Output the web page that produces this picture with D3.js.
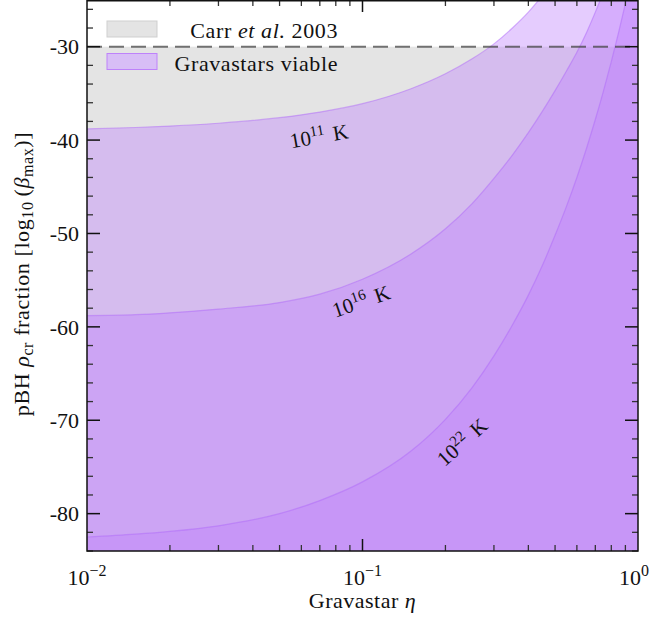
<!DOCTYPE html>
<html>
<head>
<meta charset="utf-8">
<script src="https://cdn.jsdelivr.net/npm/d3@7"></script>
<style>
  html, body { margin: 0; padding: 0; background: #fff; }
  svg { display: block; }
  text { font-family: "Liberation Serif", "Times New Roman", serif; fill: #111; }
</style>
</head>
<body>
<div id="chart"></div>
<script>
// ---- data ----
const etaT11  = [0.01, 0.015, 0.02, 0.03, 0.05, 0.07, 0.1, 0.15, 0.2, 0.25, 0.3, 0.35, 0.4, 0.45, 0.5, 0.6, 0.8, 1.0];
const betaT11 = [-38.8, -38.65, -38.5, -38.2, -37.6, -37.0, -36.1, -34.5, -32.9, -31.3, -29.7, -28.0, -26.3, -24.5, -22.7, -19.0, -11.5, -4.0];

const etaT16  = [0.01, 0.015, 0.02, 0.03, 0.05, 0.07, 0.1, 0.15, 0.2, 0.25, 0.3, 0.35, 0.4, 0.45, 0.5, 0.55, 0.6, 0.65, 0.7, 0.75, 0.8, 0.9, 1.0];
const betaT16 = [-58.8, -58.7, -58.5, -58.1, -57.4, -56.5, -54.9, -52.2, -49.5, -46.8, -44.1, -41.6, -39.2, -36.9, -34.7, -32.6, -30.6, -28.5, -26.3, -24.1, -21.9, -17.5, -13.0];

const etaT22  = [0.01, 0.015, 0.02, 0.03, 0.05, 0.07, 0.1, 0.15, 0.2, 0.25, 0.3, 0.35, 0.4, 0.45, 0.5, 0.55, 0.6, 0.65, 0.7, 0.75, 0.8, 0.85, 0.9, 0.95, 1.0];
const betaT22 = [-82.5, -82.2, -81.9, -81.3, -80.0, -78.6, -76.6, -73.3, -69.9, -66.5, -63.1, -59.8, -56.6, -53.4, -50.2, -47.1, -44.0, -40.9, -37.8, -34.7, -31.6, -28.5, -25.4, -22.3, -19.2];

const carrLimit = -30;
const curveLabels = ["10", "11", "16", "22"];
const yTicks = [-80, -70, -60, -50, -40, -30];
const xTickExps = ["-2", "-1", "0"];
const legendItems = ["Carr et al. 2003", "Gravastars viable"];

// ---- layout ----
const W = 651, H = 617;
const L = 87, R = 638, T = 0, B = 551;

const svg = d3.select("#chart").append("svg").attr("width", W).attr("height", H);

const x = d3.scaleLog().domain([1e-2, 1]).range([L, R]);
const y = d3.scaleLinear().domain([-84, -25]).range([B, T]);

svg.append("defs").append("clipPath").attr("id", "clip")
  .append("rect").attr("x", L).attr("y", T).attr("width", R - L).attr("height", B - T);

const plot = svg.append("g").attr("clip-path", "url(#clip)");

// grey Carr et al. region
plot.append("rect")
  .attr("x", L).attr("y", y(carrLimit))
  .attr("width", R - L).attr("height", B - y(carrLimit))
  .attr("fill", "#e4e4e4");

const purple = "rgb(192,130,252)";
const series = [
  [etaT11, betaT11],
  [etaT16, betaT16],
  [etaT22, betaT22]
];
const area = d3.area()
  .x(d => x(d[0])).y0(y(-84)).y1(d => y(d[1]))
  .curve(d3.curveMonotoneX);
const line = d3.line()
  .x(d => x(d[0])).y(d => y(d[1]))
  .curve(d3.curveMonotoneX);

series.forEach(([e, b]) => {
  const pts = e.map((v, i) => [v, b[i]]);
  plot.append("path").attr("d", area(pts))
    .attr("fill", purple).attr("fill-opacity", 0.41);
  plot.append("path").attr("d", line(pts))
    .attr("fill", "none").attr("stroke", "rgb(175,105,250)")
    .attr("stroke-opacity", 0.5).attr("stroke-width", 1.2);
});

// dashed Carr line
plot.append("line")
  .attr("x1", L).attr("x2", R).attr("y1", y(carrLimit)).attr("y2", y(carrLimit))
  .attr("stroke", "#444").attr("stroke-opacity", 0.75)
  .attr("stroke-width", 2).attr("stroke-dasharray", "15,7");

// ---- frame & ticks ----
const tickColor = "#333";
const frame = svg.append("g");
const yMinor = d3.range(-84, -24, 2).filter(v => v % 10 !== 0);
yMinor.forEach(v => {
  frame.append("line").attr("x1", L).attr("x2", L + 6).attr("y1", y(v)).attr("y2", y(v))
    .attr("stroke", tickColor).attr("stroke-width", 1.3);
  frame.append("line").attr("x1", R).attr("x2", R - 6).attr("y1", y(v)).attr("y2", y(v))
    .attr("stroke", tickColor).attr("stroke-width", 1.3);
});
yTicks.forEach(v => {
  frame.append("line").attr("x1", L).attr("x2", L + 13).attr("y1", y(v)).attr("y2", y(v))
    .attr("stroke", "#111").attr("stroke-width", 1.5);
  frame.append("line").attr("x1", R).attr("x2", R - 13).attr("y1", y(v)).attr("y2", y(v))
    .attr("stroke", "#111").attr("stroke-width", 1.5);
  svg.append("text").attr("x", L - 8).attr("y", y(v)).attr("dy", "0.35em")
    .attr("text-anchor", "end").attr("font-size", 22).text(String(v));
});
const xMinor = [];
[0.01, 0.1].forEach(d => { for (let k = 2; k <= 9; k++) xMinor.push(d * k); });
xMinor.forEach(v => {
  frame.append("line").attr("x1", x(v)).attr("x2", x(v)).attr("y1", B).attr("y2", B - 6)
    .attr("stroke", tickColor).attr("stroke-width", 1.3);
  frame.append("line").attr("x1", x(v)).attr("x2", x(v)).attr("y1", T).attr("y2", T + 6)
    .attr("stroke", tickColor).attr("stroke-width", 1.3);
});
[0.1].forEach(v => {
  frame.append("line").attr("x1", x(v)).attr("x2", x(v)).attr("y1", B).attr("y2", B - 12)
    .attr("stroke", "#111").attr("stroke-width", 1.5);
  frame.append("line").attr("x1", x(v)).attr("x2", x(v)).attr("y1", T).attr("y2", T + 12)
    .attr("stroke", "#111").attr("stroke-width", 1.5);
});
frame.append("rect").attr("x", L).attr("y", T + 0.75).attr("width", R - L).attr("height", B - T - 0.75)
  .attr("fill", "none").attr("stroke", "#111").attr("stroke-width", 1.5);

xTickExps.forEach((ex, i) => {
  const v = Math.pow(10, +ex);
  const last = i === xTickExps.length - 1;
  const t = svg.append("text").attr("x", last ? W - 2 : x(v)).attr("y", 585)
    .attr("text-anchor", last ? "end" : "middle").attr("font-size", 22);
  t.append("tspan").text("10");
  t.append("tspan").attr("dy", -9).attr("font-size", 16).text(ex.replace("-", "\u2212"));
});

// axis titles
const xt = svg.append("text").attr("x", (L + R) / 2).attr("y", 608)
  .attr("text-anchor", "middle").attr("font-size", 22).attr("letter-spacing", 0.5);
xt.append("tspan").text("Gravastar ");
xt.append("tspan").attr("font-style", "italic").text("\u03b7");

const yt = svg.append("text").attr("transform", "translate(29,274) rotate(-90)")
  .attr("text-anchor", "middle").attr("font-size", 22).attr("letter-spacing", 0.6);
yt.append("tspan").text("pBH ");
yt.append("tspan").attr("font-style", "italic").text("\u03c1");
yt.append("tspan").attr("font-size", 16).attr("dy", 4).text("cr");
yt.append("tspan").attr("dy", -4).text(" fraction [log");
yt.append("tspan").attr("font-size", 16).attr("dy", 4).text("10");
yt.append("tspan").attr("dy", -4).text("\u2009(");
yt.append("tspan").attr("font-style", "italic").text("\u03b2");
yt.append("tspan").attr("font-size", 16).attr("dy", 4).text("max");
yt.append("tspan").attr("dy", -4).text(")]");

// curve labels
const labelPos = [
  { exp: curveLabels[1], cx: 319, cy: 136, rot: -10 },
  { exp: curveLabels[2], cx: 361, cy: 301, rot: -19 },
  { exp: curveLabels[3], cx: 462, cy: 442, rot: -42 }
];
labelPos.forEach(p => {
  const t = svg.append("text").attr("transform", `translate(${p.cx},${p.cy}) rotate(${p.rot})`)
    .attr("text-anchor", "middle").attr("dy", "0.35em").attr("font-size", 21);
  t.append("tspan").text(curveLabels[0]);
  t.append("tspan").attr("dy", -8).attr("font-size", 15).text(p.exp);
  t.append("tspan").attr("dy", 8).attr("dx", 3).text(" K");
});

// legend
const lg = svg.append("g");
lg.append("rect").attr("x", 107).attr("y", 21).attr("width", 50).attr("height", 16)
  .attr("fill", "#e4e4e4").attr("stroke", "#cfcfcf").attr("stroke-width", 1);
lg.append("rect").attr("x", 107).attr("y", 53.5).attr("width", 50).attr("height", 16)
  .attr("fill", "rgb(216,190,246)").attr("stroke", "rgb(190,130,250)").attr("stroke-width", 1);
const l1 = lg.append("text").attr("x", 338).attr("y", 38).attr("text-anchor", "end")
  .attr("font-size", 22).attr("letter-spacing", 0.6);
l1.append("tspan").text("Carr ");
l1.append("tspan").attr("font-style", "italic").text("et al.");
l1.append("tspan").text(" 2003");
lg.append("text").attr("x", 338).attr("y", 70.5).attr("text-anchor", "end").attr("font-size", 22)
  .attr("letter-spacing", 0.6).text(legendItems[1]);
</script>
</body>
</html>
